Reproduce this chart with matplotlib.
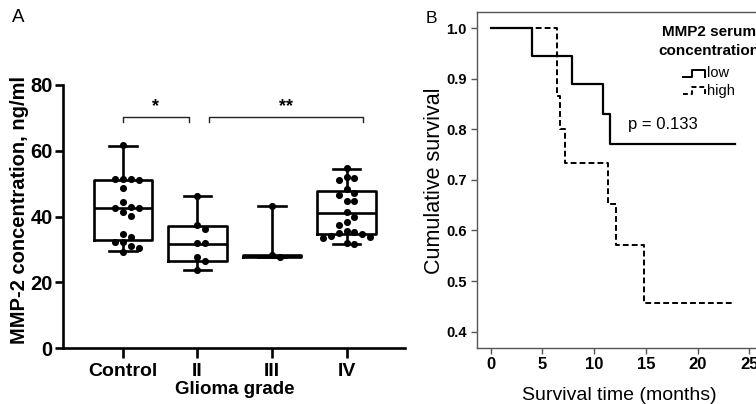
import matplotlib
matplotlib.use("Agg")
import matplotlib.pyplot as plt
from matplotlib.lines import Line2D
import numpy as np

plt.rcParams['font.family'] = ['Liberation Sans', 'DejaVu Sans']

# ---------------- Panel A data ----------------
groups = ["Control", "II", "III", "IV"]
control_vals = [61.7, 51.4, 51.5, 51.2, 51.3, 48.8, 44.3, 42.7, 42.8, 42.6, 41.5, 40.2,
                34.6, 33.8, 32.1, 32.2, 31.0, 30.3, 29.3]
grade2_vals = [46.3, 37.4, 36.2, 31.8, 31.8, 27.8, 26.5, 23.7]
grade3_vals = [43.1, 28.4, 27.6]
grade4_vals = [54.7, 52.1, 51.6, 51.0, 48.3, 47.3, 46.5, 44.8, 44.6, 41.5, 39.7, 38.4,
               37.4, 35.6, 35.3, 35.0, 34.7, 34.2, 33.9, 33.5, 32.0, 31.6]
box_q1 = [32.9, 26.6, 27.8, 34.7]
box_med = [42.5, 31.5, 28.0, 41.0]
box_q3 = [51.1, 37.1, 28.3, 47.8]
whisk_lo = [29.5, 23.7, 27.8, 31.5]
whisk_hi = [61.5, 46.3, 43.1, 54.6]
a_yticks = [0, 20, 40, 60, 80]

# ---------------- Panel B data ----------------
low_t = [0, 4.0, 7.9, 10.85, 11.55, 23.65]
low_s = [1.0, 0.945, 0.889, 0.831, 0.772, 0.772]
high_t = [0, 6.4, 6.65, 7.2, 11.3, 12.1, 14.8, 23.4]
high_s = [1.0, 0.867, 0.800, 0.734, 0.653, 0.571, 0.457, 0.457]
b_xticks = [0, 5, 10, 15, 20, 25]
b_yticks = [0.4, 0.5, 0.6, 0.7, 0.8, 0.9, 1.0]

W, H = 756, 404
fig = plt.figure(figsize=(W / 100, H / 100), dpi=100)


def fx(px):
    return px / W


def fy(py):
    return 1 - py / H


# ---------------- Panel A ----------------
axA = fig.add_axes([fx(63), fy(348), 342 / W, 263 / H])
axA.set_xlim(-0.805, 3.785)
axA.set_ylim(0, 80)
stats = []
for i in range(4):
    stats.append(dict(med=box_med[i], q1=box_q1[i], q3=box_q3[i],
                      whislo=whisk_lo[i], whishi=whisk_hi[i], fliers=[]))
lw_box = 1.9
axA.bxp(stats, positions=range(4), widths=0.78, capwidths=0.37, showfliers=False,
        boxprops=dict(color='black', linewidth=lw_box),
        medianprops=dict(color='black', linewidth=lw_box),
        whiskerprops=dict(color='black', linewidth=lw_box),
        capprops=dict(color='black', linewidth=lw_box),
        manage_ticks=False, zorder=2)

# swarm placement of points (computed in pixel space)
px_per_x = 342 / (3.785 + 0.805)
px_per_y = 263 / 80.0
min_d = 7.8
all_vals = [control_vals, grade2_vals, grade3_vals, grade4_vals]
for gi, vals in enumerate(all_vals):
    placed = []
    for v in sorted(vals, reverse=True):
        k = 0
        while True:
            step = (k + 1) // 2 * (1 if k % 2 == 1 else -1)
            ox = step * min_d
            ok = all(np.hypot(ox - px_, (v - pv) * px_per_y) >= min_d for px_, pv in placed)
            if ok:
                placed.append((ox, v))
                break
            k += 1
    xs = [gi + p[0] / px_per_x for p in placed]
    ys = [p[1] for p in placed]
    axA.scatter(xs, ys, s=26, color='black', zorder=3, linewidths=0)

axA.spines['top'].set_visible(False)
axA.spines['right'].set_visible(False)
for s in ['left', 'bottom']:
    axA.spines[s].set_linewidth(1.9)
axA.set_yticks(a_yticks)
axA.set_yticklabels([str(t) for t in a_yticks], fontsize=14.5, fontweight='bold')
axA.set_xticks(range(4))
axA.set_xticklabels(groups, fontsize=14, fontweight='bold')
axA.tick_params(axis='y', length=5.5, width=1.9, pad=2)
axA.tick_params(axis='x', length=7, width=1.9, pad=4)

# significance brackets
def bracket(x0, x1, y, txt):
    axA.plot([x0, x0, x1, x1], [y - 1.7, y, y, y - 1.7], color='#222222', lw=1.0,
             clip_on=False)
    axA.text((x0 + x1) / 2, y + 0.3, txt, ha='center', va='bottom', fontsize=13,
             fontweight='bold')

bracket(0.0, 0.886, 70.4, '*')
bracket(1.155, 3.22, 70.4, '**')

fig.text(fx(20), fy(209.5), 'MMP-2 concentration, ng/ml', rotation=90, ha='center',
         va='center', fontsize=14.5, fontweight='bold')
fig.text(fx(235), fy(390), 'Glioma grade', ha='center', va='center', fontsize=13.5,
         fontweight='bold')
fig.text(fx(18), fy(18), 'A', ha='center', va='center', fontsize=13.5)

# ---------------- Panel B ----------------
axB = fig.add_axes([fx(476.7), fy(347.7), (770 - 476.7) / W, 336 / H])
axB.set_xlim(-1.355, 27.0)
axB.set_ylim(0.368, 1.033)
axB.step(low_t, low_s, where='post', color='black', lw=1.6)
axB.step(high_t, high_s, where='post', color='black', lw=1.4, linestyle=(0, (3.0, 1.6)))
for s in axB.spines.values():
    s.set_color('#555555')
    s.set_linewidth(1.0)
axB.set_xticks(b_xticks)
axB.set_xticklabels([str(t) for t in b_xticks], fontsize=12, fontweight='bold')
axB.set_yticks(b_yticks)
axB.set_yticklabels(['%.1f' % t for t in b_yticks], fontsize=10.5, fontweight='bold')
axB.tick_params(axis='both', length=4, width=1.0, color='#555555', pad=3)

fig.text(fx(628), fy(125), 'p = 0.133', ha='left', va='center', fontsize=12)
fig.text(fx(709), fy(31.7), 'MMP2 serum', ha='center', va='center', fontsize=11,
         fontweight='bold')
fig.text(fx(709), fy(50.7), 'concentration', ha='center', va='center', fontsize=11,
         fontweight='bold')
fig.text(fx(707), fy(73.3), 'low', ha='left', va='center', fontsize=10.5)
fig.text(fx(707), fy(90.5), 'high', ha='left', va='center', fontsize=10.5)

# legend glyphs
def glyph(y0, ls):
    xs = [682.7, 691.7, 691.7, 705.0, 705.0]
    ys = [y0 + 3.8, y0 + 3.8, y0 - 3.5, y0 - 3.5, y0 + 3.8]
    fig.add_artist(Line2D([fx(x) for x in xs], [fy(y) for y in ys],
                          transform=fig.transFigure, color='black', lw=1.4, linestyle=ls))

glyph(73.3, '-')
glyph(90.5, (0, (2.5, 1.5)))

fig.text(fx(435), fy(180.8), 'Cumulative survival', rotation=90, ha='center',
         va='center', fontsize=15.5)
fig.text(fx(619), fy(396), 'Survival time (months)', ha='center', va='center',
         fontsize=14)
fig.text(fx(431), fy(18.5), 'B', ha='center', va='center', fontsize=12.5)

fig.savefig('out.png', dpi=100)
